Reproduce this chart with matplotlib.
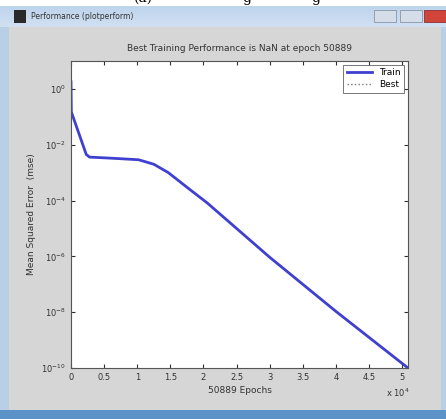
import numpy as np
import matplotlib.pyplot as plt
from matplotlib.patches import Rectangle

# values
epochs = [0, 50, 2300, 2800, 6000, 10200, 12500, 14700, 17500, 20600, 30000, 40000, 50889]
train_mse = [1.8, 0.15, 4.5e-3, 3.6e-3, 3.3e-3, 2.9e-3, 2.0e-3, 1.0e-3, 3.0e-4, 8.1e-5,
             9.3e-7, 1.07e-8, 1e-10]
best_epoch = [np.nan]
best_mse = [np.nan]
yticks = [1e0, 1e-2, 1e-4, 1e-6, 1e-8, 1e-10]
ylabels = ['$10^{0}$', '$10^{-2}$', '$10^{-4}$', '$10^{-6}$', '$10^{-8}$', '$10^{-10}$']
xticks = [0, 0.5, 1, 1.5, 2, 2.5, 3, 3.5, 4, 4.5, 5]

W, H = 446, 419
fig = plt.figure(figsize=(W / 100, H / 100), dpi=100)
fig.patch.set_facecolor('#b8cfe6')

def rect(x, y, w, h, **kw):
    # pixel coords from top-left, drawn behind the axes
    fig.patches.append(Rectangle((x / W, 1 - (y + h) / H), w / W, h / H, zorder=-10,
                                 transform=fig.transFigure, figure=fig, **kw))

# white strip with the cut caption of the page above
rect(0, 0, W, 6, facecolor='white', edgecolor='none')
for cx, s in [(143, '(a)'), (247, 'g'), (316, 'g')]:
    fig.text(cx / W, 1.005, s, fontsize=10, color='black', ha='center', va='center',
             family='DejaVu Serif', zorder=-5)
# title bar gradient
for i in range(21):
    c = np.array([0.74, 0.83, 0.93]) * (1 - i / 30) + np.array([0.86, 0.90, 0.95]) * (i / 30)
    rect(0, 6 + i, W, 1.05, facecolor=c, edgecolor='none')
rect(14, 10, 12, 13, facecolor='#2a2a2a', edgecolor='none')
fig.text(31 / W, 1 - 16.5 / H, 'Performance (plotperform)', fontsize=5.5, color='#333333',
         va='center', ha='left')
rect(374, 10, 22, 12, facecolor='#d5dde8', edgecolor='#8896a8', lw=0.6)
rect(400, 10, 22, 12, facecolor='#d5dde8', edgecolor='#8896a8', lw=0.6)
rect(424, 10, 22, 12, facecolor='#d0443a', edgecolor='#8a3030', lw=0.6)
# gray client area
rect(9, 27, W - 14, 383, facecolor='#d6d6d6', edgecolor='none')
rect(0, 410, W, 9, facecolor='#5b93c8', edgecolor='none')

ax = fig.add_axes([71 / W, (H - 368) / H, (408 - 71) / W, (368 - 61) / H])
ax.set_zorder(5)
ax.set_facecolor('white')
ax.semilogy(np.array(epochs) / 1e4, train_mse, color='#4040d0', lw=2, label='Train')
ax.semilogy(best_epoch, best_mse, color='#777777', ls=':', lw=1, label='Best')
ax.set_xlim(0, 5.0889)
ax.set_ylim(1e-10, 1e1)
ax.set_xticks(xticks)
ax.set_xticklabels([f'{t:g}' for t in xticks])
ax.set_yticks(yticks)
ax.set_yticklabels(ylabels)
ax.minorticks_off()
ax.tick_params(direction='in', top=True, right=True, labelsize=6, length=3, colors='#333333')
for s in ax.spines.values():
    s.set_color('#555555')
    s.set_linewidth(0.8)
ax.set_title('Best Training Performance is NaN at epoch 50889', fontsize=6.5, color='#333333', pad=7)
ax.set_xlabel('50889 Epochs', fontsize=6.5, color='#333333', labelpad=3)
ax.set_ylabel('Mean Squared Error  (mse)', fontsize=6.5, color='#333333', labelpad=4)
fig.text(398 / W, 1 - 393 / H, r'x $10^{4}$', fontsize=6, color='#333333', ha='center', va='center')
leg = ax.legend(loc='upper right', fontsize=6.5, frameon=True, fancybox=False,
                borderaxespad=0.4, handlelength=2.8, labelspacing=0.3)
leg.get_frame().set_edgecolor('#555555')
leg.get_frame().set_linewidth(0.7)

fig.savefig('out.png', dpi=100, facecolor=fig.get_facecolor())
